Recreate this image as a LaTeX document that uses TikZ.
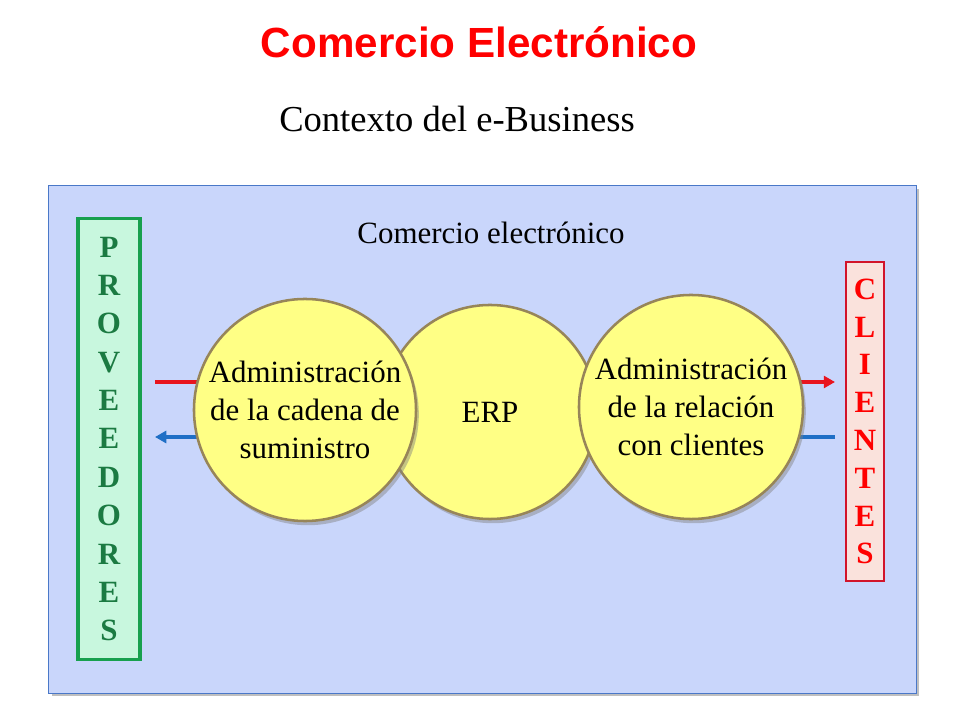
\documentclass[tikz,border=0pt]{standalone}
\usepackage{fontspec}
\setmainfont{Liberation Serif}
\newfontfamily\arialfont{Liberation Sans}
\usetikzlibrary{shadows,arrows.meta}
\pgfdeclarelayer{back}
\pgfdeclarelayer{mid}
\pgfsetlayers{back,mid,main}
\definecolor{bgblue}{HTML}{C9D6FB}
\definecolor{boxblue}{HTML}{4A78C8}
\definecolor{circfill}{HTML}{FFFF85}
\definecolor{circline}{HTML}{978559}
\definecolor{provgreen}{HTML}{17A04E}
\definecolor{provfill}{HTML}{C8F7DE}
\definecolor{provtext}{HTML}{1B7A42}
\definecolor{clired}{HTML}{D2142A}
\definecolor{clifill}{HTML}{FAE2DC}
\definecolor{arrred}{HTML}{E8141E}
\definecolor{arrblue}{HTML}{1F6FC6}

\begin{document}
\begin{tikzpicture}[x=0.025cm, y=-0.025cm,
            every node/.style={
            inner sep=0pt, text centered, font=\fontsize{22}{27}\selectfont}
        ]
        \tikzstyle {main_box} = [rectangle, draw=boxblue, fill=bgblue, line width=0.8pt, minimum width=21.675cm, minimum height=12.675cm, drop shadow={shadow xshift=2pt, shadow yshift=-2pt, opacity=0.5}]
        \tikzstyle {yellow_circ} = [circle, draw=circline, fill=circfill, line width=1.8pt, align=center, drop shadow={shadow xshift=2pt, shadow yshift=-3pt, opacity=0.45}]
        \tikzstyle {green_box} = [rectangle, draw=provgreen, fill=provfill, line width=2.2pt, text=provtext, align=center, minimum width=1.55cm, minimum height=11cm, font=\fontsize{22}{27.3}\selectfont\bfseries]
        \tikzstyle {red_box} = [rectangle, draw=clired, fill=clifill, line width=1.2pt, text=red, align=center, minimum width=0.95cm, minimum height=7.975cm, font=\fontsize{22}{26.9}\selectfont\bfseries]
        \tikzstyle {red_arrow} = [draw=arrred, line width=2.8pt, -{Triangle[length=8pt,width=8.5pt]}]
        \tikzstyle {blue_arrow} = [draw=arrblue, line width=2.8pt, -{Triangle[length=8pt,width=8.5pt]}]

        \useasboundingbox (0,0) rectangle (960,720);

        \begin{pgfonlayer}{back}
        \node [main_box] (ecom) at (482.5,439.5) {};
        \end{pgfonlayer}
        \node [anchor=base, text=red, font=\arialfont\bfseries\fontsize{30}{36}\selectfont] (title) at (479,58) {Comercio Electrónico};
        \node [anchor=base, font=\fontsize{26}{31}\selectfont] (subtitle) at (457,132) {Contexto del e-Business};
        \node [anchor=base] (ecom_lbl) at (491,244) {Comercio electrónico};

        \node [green_box] (prov) at (109,439) {P\\R\\O\\V\\E\\E\\D\\O\\R\\E\\S};
        \node [red_box] (cli) at (865,421.5) {C\\L\\I\\E\\N\\T\\E\\S};

        \coordinate (prov_in) at (155,382);
        \coordinate (prov_out) at (155,437);
        \coordinate (cli_out) at (835,382);
        \coordinate (cli_in) at (835,437);

        \node [yellow_circ, minimum size=5.35cm] (erp) at (490,412) {ERP};
        \node [yellow_circ, minimum size=5.55cm] (scm) at (305,410) {Administración\\de la cadena de\\suministro};
        \node [yellow_circ, minimum size=5.6cm] (crm) at (691,407) {Administración\\de la relación\\con clientes};

        % arrows go under the circles
        \begin{pgfonlayer}{mid}
        \draw [red_arrow] (prov_in) -- (prov_in -| scm);
        \draw [blue_arrow] (prov_out -| scm) -- (prov_out);
        \draw [red_arrow] (cli_out -| crm) -- (cli_out);
        \draw [blue_arrow] (cli_in) -- (cli_in -| crm);
        \end{pgfonlayer}
        
        \end{tikzpicture}
\end{document}
